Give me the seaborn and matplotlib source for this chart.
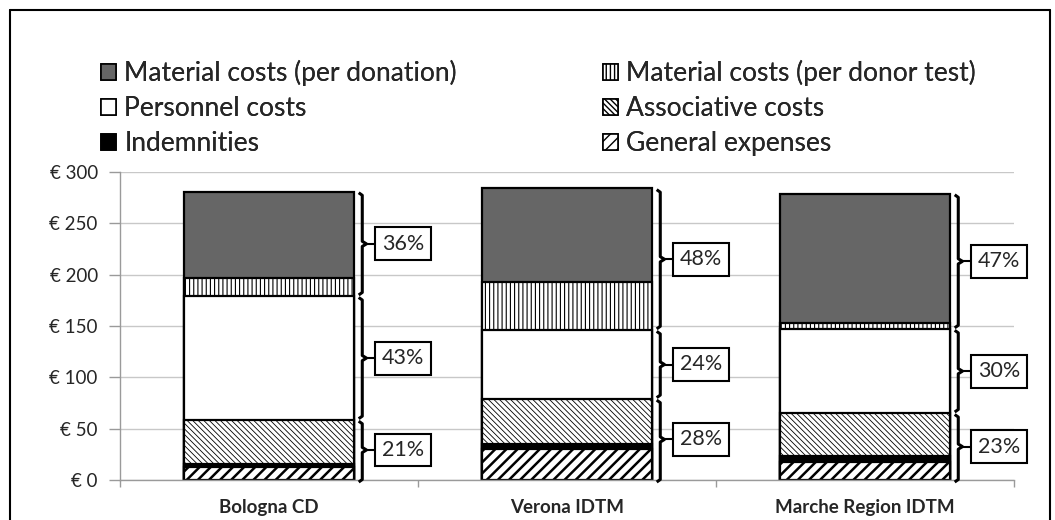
import numpy as np
import pandas as pd
import matplotlib
matplotlib.use("Agg")
import matplotlib.pyplot as plt
import seaborn as sns
from matplotlib.patches import Patch
from matplotlib.lines import Line2D

# ---------------- data ----------------
sites = ["Bologna CD", "Verona IDTM", "Marche Region IDTM"]
general_expenses = [13, 30, 18]
indemnities = [3, 5, 5]
associative_costs = [42.5, 44, 42]
personnel_costs = [120.5, 67, 82]
donor_test_costs = [18, 47, 6]
donation_costs = [84, 91, 126]
pct_top = ["36%", "48%", "47%"]
pct_mid = ["43%", "24%", "30%"]
pct_bot = ["21%", "28%", "23%"]
y_ticks = [0, 50, 100, 150, 200, 250, 300]

layers = [
    ("General expenses", general_expenses, "white", "///"),
    ("Indemnities", indemnities, "black", None),
    ("Associative costs", associative_costs, "white", "\\\\\\\\\\\\"),
    ("Personnel costs", personnel_costs, "white", None),
    ("Material costs (per donor test)", donor_test_costs, "white", "||||"),
    ("Material costs (per donation)", donation_costs, "#666666", None),
]
hatch_lw = {"General expenses": 1.8, "Associative costs": 0.6,
            "Material costs (per donor test)": 0.8}

sns.set_theme(style="white")
plt.rcParams["font.family"] = ["Lato", "DejaVu Sans"]

fig = plt.figure(figsize=(10.55, 5.2), dpi=100)
ax = fig.add_axes([120 / 1055, 40 / 520, (1014 - 120) / 1055, (480 - 172) / 520])

# cumulative sums, draw from top layer down so lower layers overdraw
cum = np.cumsum(np.array([l[1] for l in layers], dtype=float), axis=0)
bar_w = 0.57
for i in range(len(layers) - 1, -1, -1):
    name, vals, color, hatch = layers[i]
    df = pd.DataFrame({"site": sites, "value": cum[i]})
    n_before = len(ax.patches)
    with plt.rc_context({"hatch.linewidth": hatch_lw.get(name, 1.0), "hatch.color": "black"}):
        sns.barplot(data=df, x="site", y="value", color=color, width=bar_w,
                    edgecolor="black", linewidth=1.6, saturation=1, ax=ax,
                    errorbar=None)
        for p in ax.patches[n_before:]:
            p.set_facecolor(color)
            if hatch:
                p.set_hatch(hatch)
                if hasattr(p, "set_hatch_linewidth"):
                    p.set_hatch_linewidth(hatch_lw.get(name, 1.0))

ax.set_xlim(-0.5, 2.5)
ax.set_ylim(0, 300)
ax.set_yticks(y_ticks)
ax.set_yticklabels([f"€ {v}" for v in y_ticks], fontsize=13.5)
ax.set_xlabel("")
ax.set_ylabel("")
ax.set_xticks([0, 1, 2])
ax.set_xticklabels(sites, fontsize=13.5, fontweight="bold")
ax.set_xticks([-0.5, 0.5, 1.5, 2.5], minor=True)
ax.tick_params(axis="x", which="major", length=0, pad=14)
ax.tick_params(axis="x", which="minor", length=5, color="#9a9a9a", width=1, direction="out", bottom=True)
ax.tick_params(axis="y", length=8, color="#9a9a9a", width=1, direction="out", left=True, pad=8)
ax.grid(axis="y", color="#c8c8c8", linewidth=1)
ax.set_axisbelow(True)
for s in ["top", "right"]:
    ax.spines[s].set_visible(False)
for s in ["left", "bottom"]:
    ax.spines[s].set_color("#9a9a9a")
    ax.spines[s].set_linewidth(1)

# brackets + percentage boxes
groups_lo = [np.zeros(3), cum[2], cum[3]]
groups_hi = [cum[2], cum[3], cum[5]]
labels = [pct_bot, pct_mid, pct_top]
for g in range(3):
    for j in range(3):
        y0 = groups_lo[g][j]
        y1 = groups_hi[g][j]
        if g == 0:
            y0 = -2.0
        else:
            y0 = y0 + 1.2
        y1 = y1 - 1.2
        ym = (groups_lo[g][j] + groups_hi[g][j]) / 2
        xb = j + 0.313
        d = 2.5
        xs = [xb - 0.012, xb, xb, xb + 0.014, xb, xb, xb - 0.012]
        ys = [y0, y0 + d, ym - d, ym, ym + d, y1 - d, y1]
        ax.plot(xs, ys, color="black", lw=2.2, solid_joinstyle="round",
                solid_capstyle="butt", clip_on=False, zorder=5)
        ax.plot([xb + 0.014, xb + 0.04], [ym, ym], color="black", lw=1.5,
                clip_on=False, zorder=5)
        ax.text(xb + 0.066, ym, labels[g][j], fontsize=15.5, ha="left", va="center",
                zorder=6, clip_on=False,
                bbox=dict(boxstyle="square,pad=0.3", fc="white", ec="black", lw=1.5))

# legend (two columns drawn as two legends for exact positions)
handles = {}
for name, vals, color, hatch in layers:
    handles[name] = Patch(facecolor=color, edgecolor="black", hatch=hatch,
                          linewidth=1.2, label=name)
col1 = ["Material costs (per donation)", "Personnel costs", "Indemnities"]
col2 = ["Material costs (per donor test)", "Associative costs", "General expenses"]
leg_kw = dict(loc="center left", frameon=False, fontsize=19, handlelength=0.58,
              handleheight=0.58, handletextpad=0.3, labelspacing=0.38,
              borderaxespad=0, borderpad=0)
with plt.rc_context({"hatch.linewidth": 1.0}):
    for cols, x0 in ((col1, 101), (col2, 603)):
        lg = fig.legend([handles[k] for k in cols], cols,
                        bbox_to_anchor=(x0 / 1055, 1 - 108 / 520), **leg_kw)
        fig.add_artist(lg)

# outer frame
fig.add_artist(Line2D([10 / 1055, 1050 / 1055], [1 - 10 / 520, 1 - 10 / 520],
                      transform=fig.transFigure, color="black", lw=1.5))
fig.add_artist(Line2D([10 / 1055, 10 / 1055], [0, 1 - 10 / 520],
                      transform=fig.transFigure, color="black", lw=1.5))
fig.add_artist(Line2D([1050 / 1055, 1050 / 1055], [0, 1 - 10 / 520],
                      transform=fig.transFigure, color="black", lw=1.5))

fig.savefig("out.png", dpi=100)
